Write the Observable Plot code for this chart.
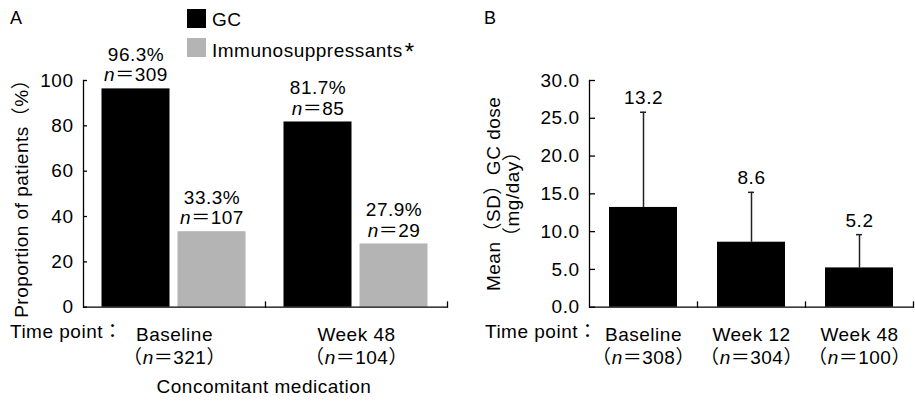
<!DOCTYPE html>
<html>
<head>
<meta charset="utf-8">
<script src="https://cdn.jsdelivr.net/npm/d3@7"></script>
<script src="https://cdn.jsdelivr.net/npm/@observablehq/plot@0.6"></script>
<style>
  html, body { margin: 0; padding: 0; background: white; }
  #wrap { position: relative; width: 915px; height: 401px; background: white; overflow: hidden;
          font-family: 'Liberation Sans', 'Noto Sans CJK JP', sans-serif; font-size: 19px; letter-spacing: 0.5px; color: black; }
  #wrap .lbl { position: absolute; white-space: nowrap; line-height: 19px; }
  #panelA, #panelB { position: absolute; top: 0; }
  #panelA { left: 0; }
  #panelB { left: 460px; }
  .sw { position: absolute; width: 19px; height: 19px; }
  .ast { font-size: 24px; position: relative; top: 3px; margin-left: 2px; }
</style>
</head>
<body>
<div id="wrap">
  <div id="panelA"></div>
  <div id="panelB"></div>
  <div class="lbl" style="left:10px;top:9px;font-size:18px;line-height:18px;">A</div>
  <div class="lbl" style="left:484px;top:9px;font-size:18px;line-height:18px;">B</div>
  <div class="sw" style="left:187px;top:9px;background:#000;"></div>
  <div class="lbl" style="left:212px;top:9.5px;">GC</div>
  <div class="sw" style="left:187px;top:38px;background:#b4b4b4;"></div>
  <div class="lbl" style="left:212px;top:39px;">Immunosuppressants<span class="ast">*</span></div>
  <div class="lbl" style="left:10px;top:322px;">Time point：</div>
  <div class="lbl" style="left:485px;top:322px;">Time point：</div>
  <div class="lbl" style="left:264px;top:377px;transform:translateX(-50%);">Concomitant medication</div>
</div>
<script>
// ---------- Panel A data ----------
const timepointsA = ["Baseline", "Week 48"];
const timeNA = [321, 104];
const medications = ["GC", "Immunosuppressants"];
const gcPct = [96.3, 81.7];
const gcN = [309, 85];
const immPct = [33.3, 27.9];
const immN = [107, 29];
const yTicksA = [0, 20, 40, 60, 80, 100];

// ---------- Panel B data ----------
const timepointsB = ["Baseline", "Week 12", "Week 48"];
const timeNB = [308, 304, 100];
const gcDoseMean = [13.2, 8.6, 5.2];
const gcDoseSD = [12.6, 6.6, 4.4];
const yTicksB = [0, 5, 10, 15, 20, 25, 30];

const FONT = "'Liberation Sans', 'Noto Sans CJK JP', sans-serif";
const medColors = ["#000000", "#b4b4b4"];

const rowsA = [];
timepointsA.forEach((t, i) => {
  rowsA.push({time: t, med: medications[0], pct: gcPct[i], n: gcN[i]});
  rowsA.push({time: t, med: medications[1], pct: immPct[i], n: immN[i]});
});
const rowsB = timepointsB.map((t, i) => ({time: t, med: medications[0], mean: gcDoseMean[i], sd: gcDoseSD[i], n: timeNB[i]}));

const labelA = new Map(timepointsA.map((t, i) => [t, `${t}\n（n＝${timeNA[i]}）`]));
const labelB = new Map(timepointsB.map((t, i) => [t, `${t}\n（n＝${timeNB[i]}）`]));

const styleObj = {fontFamily: FONT, fontSize: "19px", letterSpacing: "0.5px", background: "transparent", color: "black", overflow: "visible"};

const plotA = Plot.plot({
  width: 460, height: 401,
  marginLeft: 82.5, marginRight: 13, marginTop: 80, marginBottom: 94.3,
  style: styleObj,
  fx: {domain: timepointsA, padding: 0, label: null},
  x: {domain: medications, paddingInner: 0.104, paddingOuter: 0.234, axis: null},
  y: {domain: [0, 100], label: null},
  color: {domain: medications, range: medColors},
  marks: [
    Plot.barY(rowsA, {fx: "time", x: "med", y: "pct", fill: "med"}),
    Plot.text(rowsA, {fx: "time", x: "med", y: "pct", text: d => d.pct.toFixed(1) + "%", dy: -34, lineAnchor: "middle", fontSize: 19}),
    Plot.text(rowsA, {fx: "time", x: "med", y: "pct", text: d => "n＝" + d.n, dy: -13.5, lineAnchor: "middle", fontSize: 19}),
    Plot.ruleY([0], {stroke: "black", strokeWidth: 1.3}),
    Plot.frame({anchor: "left", facetAnchor: "left", stroke: "black", strokeWidth: 1.3}),
    Plot.frame({anchor: "right", insetTop: 221.5, stroke: "black", strokeWidth: 1.3}),
    Plot.axisY({ticks: yTicksA, tickSize: -4, tickPadding: 14, strokeWidth: 1.3, fontSize: 19,
      label: "Proportion of patients（%）", labelAnchor: "center", labelOffset: 69, labelArrow: "none"}),
    Plot.axisFx({anchor: "bottom", tickSize: 0, tickPadding: 18, fontSize: 19, lineHeight: 1.2, label: null,
      tickFormat: d => labelA.get(d)})
  ]
});

const plotB = Plot.plot({
  width: 455, height: 401,
  marginLeft: 128, marginRight: 1, marginTop: 80, marginBottom: 94.3,
  style: styleObj,
  fx: {domain: timepointsB, padding: 0, label: null},
  x: {domain: [medications[0]], paddingInner: 0, paddingOuter: 0.288, axis: null},
  y: {domain: [0, 30], label: null},
  marks: [
    Plot.ruleX(rowsB, {fx: "time", x: "med", y1: "mean", y2: d => d.mean + d.sd, stroke: "#222", strokeWidth: 1.5}),
    Plot.tickY(rowsB, {fx: "time", x: "med", y: d => d.mean + d.sd, insetLeft: 31, insetRight: 31, stroke: "#222", strokeWidth: 1.5}),
    Plot.barY(rowsB, {fx: "time", x: "med", y: "mean", fill: "black"}),
    Plot.text(rowsB, {fx: "time", x: "med", y: d => d.mean + d.sd, text: d => d.mean.toFixed(1), dy: -14, lineAnchor: "middle", fontSize: 19}),
    Plot.ruleY([0], {stroke: "black", strokeWidth: 1.3}),
    Plot.frame({anchor: "left", facetAnchor: "left", stroke: "black", strokeWidth: 1.3}),
    Plot.frame({anchor: "right", insetTop: 221.5, stroke: "black", strokeWidth: 1.3}),
    Plot.axisY({ticks: yTicksB, tickFormat: d => d.toFixed(1), tickSize: -6, tickPadding: 16, strokeWidth: 1.3, fontSize: 19,
      label: "Mean（SD）GC dose\n（mg/day）", labelAnchor: "center", labelOffset: 103, labelArrow: "none"}),
    Plot.axisFx({anchor: "bottom", tickSize: 0, tickPadding: 18, fontSize: 19, lineHeight: 1.2, label: null,
      tickFormat: d => labelB.get(d)})
  ]
});

function italicizeN(root) {
  const svgNS = "http://www.w3.org/2000/svg";
  root.querySelectorAll("text, tspan").forEach(el => {
    if (el.children.length) return;
    const s = el.textContent;
    const i = s.indexOf("n＝");
    if (i < 0) return;
    el.textContent = "";
    if (i > 0) el.appendChild(document.createTextNode(s.slice(0, i)));
    const t = document.createElementNS(svgNS, "tspan");
    t.setAttribute("font-style", "italic");
    t.textContent = "n";
    el.appendChild(t);
    el.appendChild(document.createTextNode(s.slice(i + 1)));
  });
}
italicizeN(plotA);
italicizeN(plotB);
document.getElementById("panelA").appendChild(plotA);
document.getElementById("panelB").appendChild(plotB);
</script>
</body>
</html>
